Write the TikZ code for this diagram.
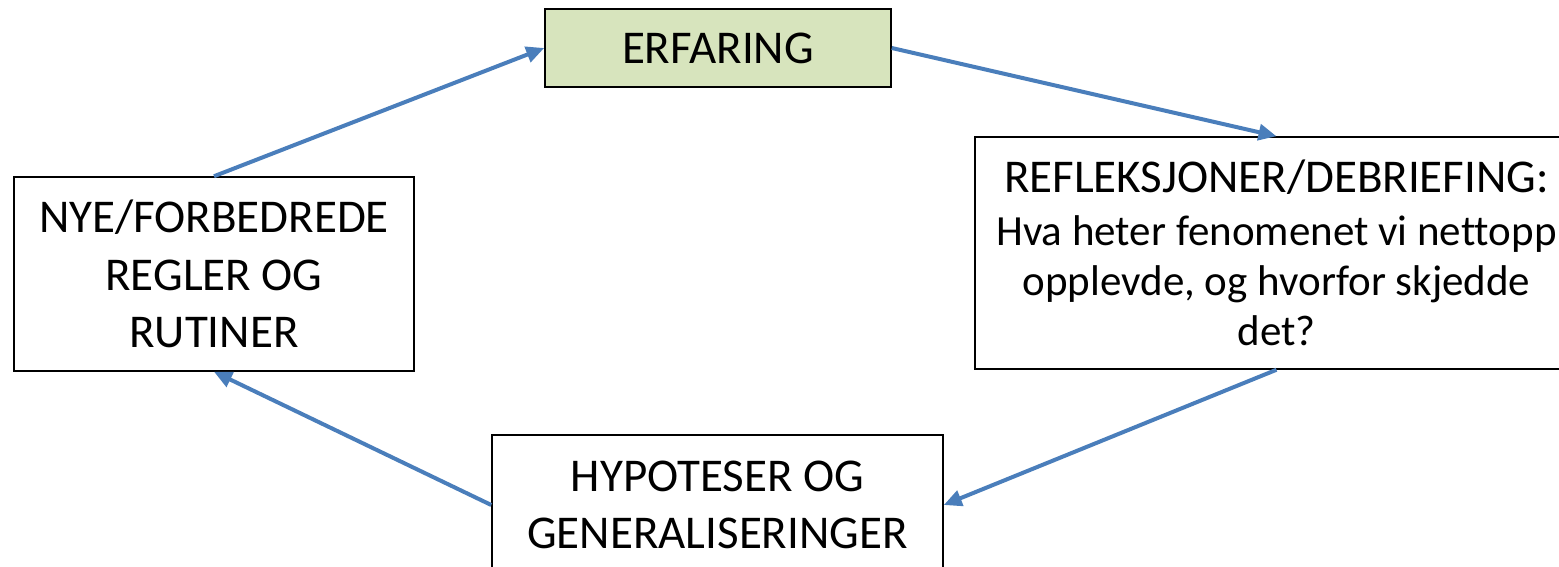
\documentclass[tikz,border=0pt]{standalone}
\usepackage{fontspec}
\setmainfont{Carlito}[Ligatures=NoCommon]
\usetikzlibrary{arrows.meta}
\definecolor{stepgreen}{HTML}{D7E4BD}
\definecolor{flowblue}{HTML}{4A7EBB}
\tikzset{
  stagebox/.style={draw=black, line width=1.5pt, fill=white, inner sep=0pt,
    align=center, font=\fontsize{47}{57.5}\selectfont},
  flow/.style={draw=flowblue, line width=4pt,
    -{Triangle[length=18pt,width=16pt]}}
}
\begin{document}
\begin{tikzpicture}[x=1pt,y=-1pt]
\useasboundingbox (0,0) rectangle (1559,567);
% the four stages of the learning cycle
\node[stagebox, fill=stepgreen, minimum width=346pt, minimum height=78pt]
  (erf) at (718,48) {ERFARING};
\node[stagebox, minimum width=603pt, minimum height=232pt,
  font=\fontsize{43}{50}\selectfont]
  (refl) at (1276.5,253) {{\fontsize{47}{53}\selectfont REFLEKSJONER/DEBRIEFING:}\\[3pt]Hva heter fenomenet vi nettopp\\opplevde, og hvorfor skjedde\\det?};
\node[stagebox, minimum width=451pt, minimum height=140pt]
  (hyp) at (717.5,505) {HYPOTESER OG\\GENERALISERINGER};
\node[stagebox, minimum width=400pt, minimum height=194pt]
  (nye) at (214,274) {NYE/FORBEDREDE\\REGLER OG\\RUTINER};
% arrows running clockwise round the cycle
\draw[flow] (nye.north) -- (erf.west);
\draw[flow] (erf.east) -- (refl.north);
\draw[flow] (refl.south) -- (hyp.east);
\draw[flow] (hyp.west) -- (nye.south);
\end{tikzpicture}
\end{document}
